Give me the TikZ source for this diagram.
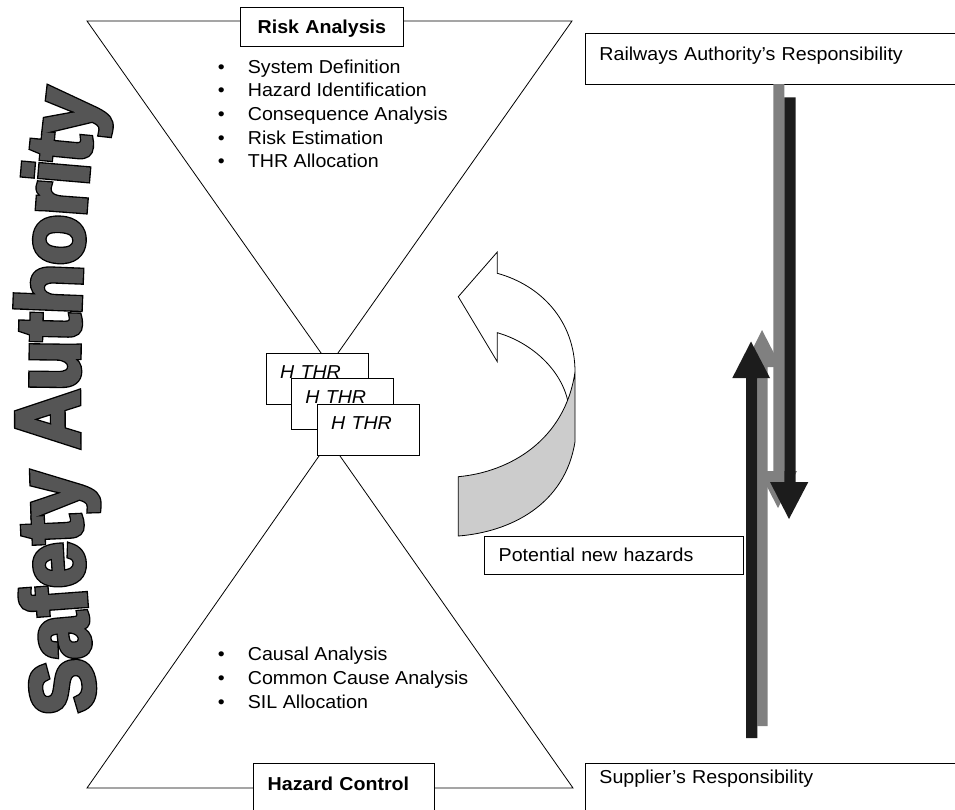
\documentclass[tikz,border=0pt]{standalone}
\usepackage{fontspec}
\setmainfont{Liberation Sans}[FakeStretch=1.05]
\newfontfamily\wafill{Liberation Sans Bold}[FakeStretch=0.9,FakeBold=4]
\newfontfamily\waline{Liberation Sans Bold}[FakeStretch=0.9,FakeBold=7]
\usetikzlibrary{decorations.text}
\definecolor{wagray}{RGB}{85,85,85}
\definecolor{arrgray}{RGB}{128,128,128}
\definecolor{arrblack}{RGB}{28,28,28}
\definecolor{bandgray}{RGB}{204,204,204}
\newcommand{\bsize}{\fontsize{18.7}{22}\selectfont}
\newcommand{\bul}{\makebox[30pt][l]{\textbullet}}
\begin{document}
\begin{tikzpicture}[x=1pt,y=-1pt,line width=.8pt,
	box/.style={draw,fill=white,anchor=north west,inner ysep=0pt,inner xsep=14pt,align=left,font=\bsize},
	item/.style={anchor=base west,inner sep=0pt,font=\bsize}]
	\useasboundingbox (0,0) rectangle (955,809);
	\clip (0,0) rectangle (955,809);
	% hourglass
	\draw (87,21) -- (572,21) -- (329.5,365) -- cycle;
	\draw (87,788) -- (573,788) -- (329.5,441) -- cycle;
	% safety authority
	\path[decorate,decoration={text along path,text align=center,
		text={|\waline\fontsize{89}{89}\selectfont\color{black}|Safety Authority}}]
		(100,740) .. controls (71,530) and (71,273) .. (100,63);
	\path[decorate,decoration={text along path,text align=center,
		text={|\wafill\fontsize{89}{89}\selectfont\color{wagray}|Safety Authority}}]
		(100,740) .. controls (71,530) and (71,273) .. (100,63);
	% boxes
	\node[box,text width=135pt,align=center,text height=26pt,text depth=12.7pt,font=\bsize\bfseries] (ra) at (240,7.3) {Risk Analysis};
	\node[box,text width=153pt,text height=27.3pt,text depth=45pt,font=\bsize\bfseries] (hc) at (253.3,762.7) {Hazard Control};
	\node[box,text width=357pt,text height=26.7pt,text depth=24pt] (rr) at (585,33.3) {Railways Authority’s Responsibility};
	\node[box,text width=357pt,text height=20.3pt,text depth=50pt] (sr) at (585,762.7) {Supplier’s Responsibility};
	\node[box,text width=231pt,text height=25.3pt,text depth=12.7pt] (pn) at (484.3,535.7) {Potential new hazards};
	\node[box,text width=74pt,text height=25pt,text depth=25.7pt,font=\bsize\itshape] (h1) at (265.7,353.3) {H THR};
	\node[box,text width=74pt,text height=25pt,text depth=25.7pt,font=\bsize\itshape] (h2) at (291,378.3) {H THR};
	\node[box,text width=74pt,text height=25pt,text depth=25.7pt,font=\bsize\itshape] (h3) at (316.7,404) {H THR};
	% lists
	\node[item] (s1) at (217.5,73.3) {\bul System Definition};
	\node[item] (s2) at (217.5,96.9) {\bul Hazard Identification};
	\node[item] (s3) at (217.5,120.5) {\bul Consequence Analysis};
	\node[item] (s4) at (217.5,144.1) {\bul Risk Estimation};
	\node[item] (s5) at (217.5,167.7) {\bul THR Allocation};
	\node[item] (c1) at (217.5,660.7) {\bul Causal Analysis};
	\node[item] (c2) at (217.5,684.5) {\bul Common Cause Analysis};
	\node[item] (c3) at (217.5,708.3) {\bul SIL Allocation};
	% turning arrow
	\filldraw[fill=bandgray] (458.3,476.7) .. controls (510,472) and (565,440) .. (575,372)
		-- (575,441.7) .. controls (565,505) and (510,532) .. (458.3,536) -- cycle;
	\draw (575,372) .. controls (575,320) and (540,285) .. (497.3,273.3) -- (497.3,252)
		-- (458.3,296.7) -- (497.3,361.7) -- (497.3,332.7) .. controls (530,342) and (560,368) .. (567.6,400);
	% responsibility arrows
	\fill[arrgray] (773.3,84) -- (784.3,84) -- (784.3,471) -- (797,471) -- (778,508) -- (759,471) -- (773.3,471) -- cycle;
	\fill[arrgray] (757.3,726) -- (767.7,726) -- (767.7,367) -- (781,367) -- (762,330) -- (743.5,367) -- (757.3,367) -- cycle;
	\fill[arrblack] (784.3,97.3) -- (795.7,97.3) -- (795.7,482) -- (808.3,482) -- (789,519) -- (770,482) -- (784.3,482) -- cycle;
	\fill[arrblack] (746,738) -- (757.3,738) -- (757.3,378) -- (770,378) -- (751,341.5) -- (732.3,378) -- (746,378) -- cycle;
\end{tikzpicture}
\end{document}
